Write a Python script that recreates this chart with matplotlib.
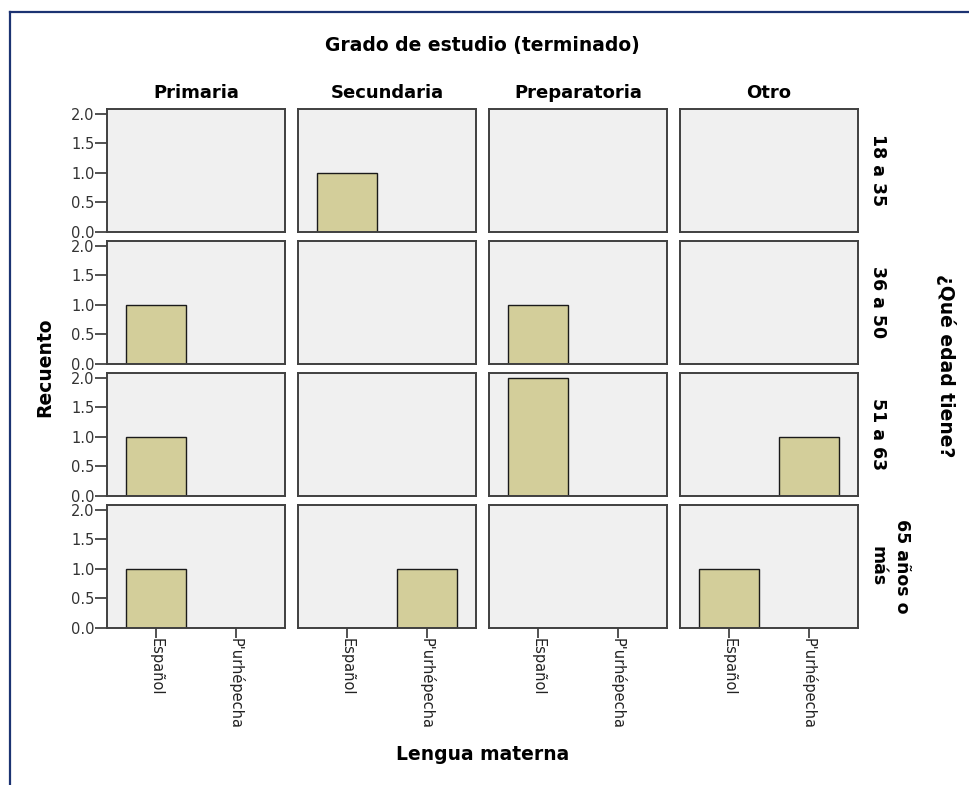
import numpy as np
import matplotlib.pyplot as plt
from matplotlib.lines import Line2D

plt.rcParams['font.family'] = ['DejaVu Sans']

# datos
estudios = ["Primaria", "Secundaria", "Preparatoria", "Otro"]
edades = ["18 a 35", "36 a 50", "51 a 63", "65 años o\nmás"]
lenguas = ["Español", "P'urhépecha"]

# recuento[edad][estudio] = [Español, P'urhépecha]
recuento = [
    [[0, 0], [1, 0], [0, 0], [0, 0]],
    [[1, 0], [0, 0], [1, 0], [0, 0]],
    [[1, 0], [0, 0], [2, 0], [0, 1]],
    [[1, 0], [0, 1], [0, 0], [1, 0]],
]
yticks = [0.0, 0.5, 1.0, 1.5, 2.0]

W, H = 970, 785
fig = plt.figure(figsize=(W / 100, H / 100), dpi=100)


def px_axes(x0, y0, w, h):
    return fig.add_axes([x0 / W, 1 - (y0 + h) / H, w / W, h / H])


x_left, col_step, col_w = 107, 191, 178
y_top, row_step, row_h = 109, 132, 123

for i, edad in enumerate(edades):
    for j, est in enumerate(estudios):
        ax = px_axes(x_left + j * col_step, y_top + i * row_step, col_w, row_h)
        ax.set_facecolor("#f0f0f0")
        ax.bar(range(len(lenguas)), recuento[i][j], width=0.76,
               color="#d3ce9a", edgecolor="#1a1a1a", linewidth=1.0)
        ax.set_xlim(-0.6125, 1.6125)
        ax.set_ylim(0, 2.08)
        for s in ax.spines.values():
            s.set_color("#404040")
            s.set_linewidth(1.4)
        ax.set_xticks(range(len(lenguas)))
        ax.set_yticks(yticks)
        if j == 0:
            ax.set_yticklabels([f"{v:.1f}" for v in yticks], fontsize=10.5, color="#333333")
            ax.tick_params(axis="y", length=8.5, width=1.2, color="#333333", pad=0.5)
        else:
            ax.tick_params(axis="y", left=False, labelleft=False)
        if i == len(edades) - 1:
            ax.set_xticklabels(lenguas, rotation=-90, fontsize=10.5, color="#222222")
            ax.tick_params(axis="x", length=7, width=1.2, color="#333333", pad=0.5)
        else:
            ax.tick_params(axis="x", bottom=False, labelbottom=False)
        if i == 0:
            ax.text(0.5, 1.0 + 11 / row_h, est, transform=ax.transAxes, ha="center",
                    va="baseline", fontsize=13, fontweight="bold")
        if j == len(estudios) - 1:
            ax.text(1.0 + 11 / col_w, 0.5, edad, transform=ax.transAxes,
                    ha="left", va="center", rotation=-90, fontsize=12.5,
                    fontweight="bold", linespacing=1.4, multialignment="center")

fig.text(482 / W, 1 - 45 / H, "Grado de estudio (terminado)", ha="center", va="center",
         fontsize=13.5, fontweight="bold")
fig.text(483 / W, 1 - 754 / H, "Lengua materna", ha="center", va="center",
         fontsize=13.5, fontweight="bold")
fig.text(45 / W, 1 - 367 / H, "Recuento", ha="center", va="center", rotation=90,
         fontsize=13.5, fontweight="bold")
fig.text(946 / W, 1 - 366 / H, "¿Qué edad tiene?", ha="center", va="center",
         rotation=-90, fontsize=13.5, fontweight="bold")

# marco
fig.add_artist(Line2D([10 / W, 10 / W], [0, 1 - 12 / H], transform=fig.transFigure,
                      color="#1c3372", linewidth=1.6))
fig.add_artist(Line2D([10 / W, 1], [1 - 12 / H, 1 - 12 / H], transform=fig.transFigure,
                      color="#1c3372", linewidth=1.6))

fig.savefig("out.png", dpi=100)
